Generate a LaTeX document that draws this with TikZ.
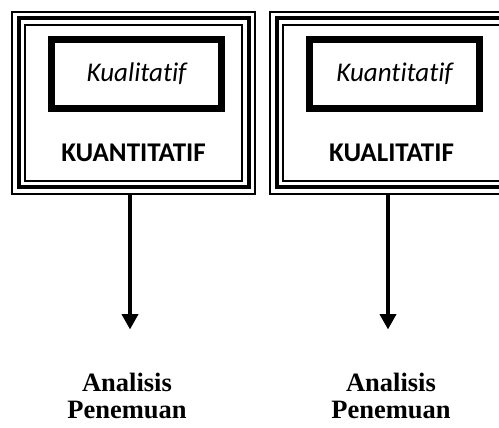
\documentclass[tikz,border=0pt]{standalone}
\usepackage{fontspec}
\newfontfamily\calib[Ligatures=NoCommon]{Carlito}
\newfontfamily\timesb{Liberation Serif}
\usetikzlibrary{positioning, arrows.meta}

\begin{document}
\begin{tikzpicture}[x=1pt,y=-1pt,>=Latex,
    outerbox/.style={minimum width=230pt, minimum height=169pt, inner sep=0pt, outer sep=0pt,
        preaction={draw, line width=14.6pt},
        preaction={draw=white, line width=11pt},
        draw, line width=4pt},
    innerbox/.style={draw, line width=7pt, minimum width=170pt, minimum height=69pt,
        inner sep=0pt, outer sep=0pt, font=\calib\itshape\fontsize{27}{31}\selectfont},
    boxlabel/.style={inner sep=0pt, font=\calib\bfseries\fontsize{27}{31}\selectfont},
    result/.style={inner sep=0pt, align=center, font=\timesb\bfseries\fontsize{26.5}{26.5}\selectfont},
    arr/.style={line width=4.6pt, -{Triangle[width=17pt,length=15pt,line width=0pt]}, shorten >=44pt}]
        \useasboundingbox (0,0) rectangle (499,428);
        % Nodes
        \node (k1) [outerbox] at (133.5,103) {};
        \node (k2) [outerbox, right=28pt of k1] {};
        \node (i1) [innerbox, below=21pt of k1.north, xshift=3pt] {Kualitatif};
        \node (i2) [innerbox, below=21pt of k2.north, xshift=3pt] {Kuantitatif};
        \node (l1) [boxlabel] at ([yshift=-50pt]k1.center) {KUANTITATIF};
        \node (l2) [boxlabel] at ([yshift=-50pt]k2.center) {KUALITATIF};
        \node (a1) [result] at (127,396) {Analisis\\Penemuan};
        \node (a2) [result] at (391,396) {Analisis\\Penemuan};

        % Arrows
        \draw[arr] ([xshift=-3.5pt,yshift=-7.3pt]k1.south) -- ([xshift=-3.5pt]k1.south |- a1.north);
        \draw[arr] ([xshift=-3.5pt,yshift=-7.3pt]k2.south) -- ([xshift=-3.5pt]k2.south |- a2.north);

    \end{tikzpicture}
\end{document}
